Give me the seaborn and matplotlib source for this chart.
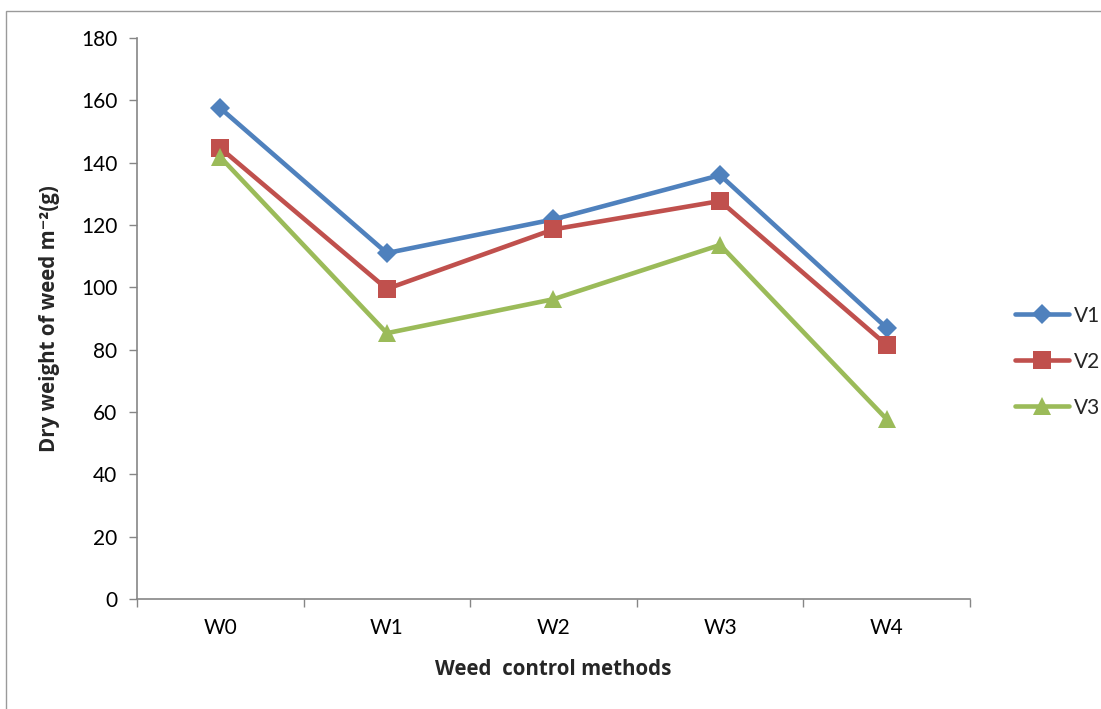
import matplotlib
matplotlib.use("Agg")
import matplotlib.pyplot as plt
import seaborn as sns
import pandas as pd
import numpy as np
from matplotlib.patches import Rectangle

methods = ["W0", "W1", "W2", "W3", "W4"]
v1 = [157.5, 111.0, 121.8, 136.0, 87.0]
v2 = [144.7, 99.5, 118.6, 127.7, 81.5]
v3 = [141.8, 85.3, 96.2, 113.6, 57.7]
series_names = ["V1", "V2", "V3"]

df = pd.DataFrame({
    "method": methods * 3,
    "value": v1 + v2 + v3,
    "variety": sum([[n] * len(methods) for n in series_names], []),
})
df["x"] = df["method"].map({m: i for i, m in enumerate(methods)})

sns.set_theme(style="white")
plt.rcParams["font.family"] = ["Lato", "DejaVu Sans"]

fig = plt.figure(figsize=(11.01, 7.09), dpi=100)
ax = fig.add_axes([0.1244, 0.1551, 0.7566, 0.7913])

palette = {"V1": "#4F81BD", "V2": "#C0504D", "V3": "#9BBB59"}
markers = {"V1": "D", "V2": "s", "V3": "^"}
sizes = {"V1": 10, "V2": 13.5, "V3": 13.5}

for name in series_names:
    sub = df[df["variety"] == name]
    sns.lineplot(data=sub, x="x", y="value", ax=ax, color=palette[name],
                 linewidth=3.3, marker=markers[name], markersize=sizes[name],
                 markeredgewidth=0, label=name, legend=False)

ax.set_xlim(-0.5, len(methods) - 0.5)
ax.set_ylim(0, 180)
ax.set_yticks(np.arange(0, 181, 20))
ax.set_xticks(range(len(methods)))
ax.set_xticklabels(methods)
ax.set_xticks(np.arange(-0.5, len(methods), 1.0), minor=True)
ax.tick_params(axis="x", which="major", length=0, pad=14, labelsize=15, colors="black")
ax.tick_params(axis="x", which="minor", length=6, width=1, color="#868686", direction="out", bottom=True)
ax.tick_params(axis="y", length=6, width=1, color="#868686", direction="out", left=True,
               labelsize=15, pad=8, labelcolor="black")

for side in ["top", "right"]:
    ax.spines[side].set_visible(False)
for side in ["left", "bottom"]:
    ax.spines[side].set_color("#868686")
    ax.spines[side].set_linewidth(1.2)

label_font = dict(family=["Open Sans", "DejaVu Sans"], fontsize=14.8, fontweight="bold")
ax.set_xlabel("Weed  control methods", labelpad=15, **label_font)
ax.set_ylabel("Dry weight of weed m\u207b\u00b2(g)", labelpad=15, **label_font)

handles, labels = ax.get_legend_handles_labels()
leg = fig.legend(handles, labels, loc="center left", bbox_to_anchor=(0.905, 0.49),
                 frameon=False, fontsize=15, handlelength=2.6, labelspacing=1.25,
                 handletextpad=0.2)

fig.patches.append(Rectangle((6 / 1101, -0.05), 1.2, 1.05 - 11 / 709,
                             transform=fig.transFigure, fill=False,
                             edgecolor="#9a9a9a", linewidth=1.0))

fig.savefig("out.png", dpi=100)
